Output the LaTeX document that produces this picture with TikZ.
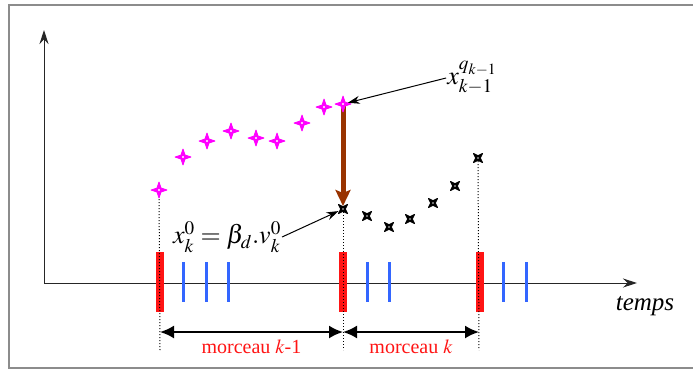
\documentclass[tikz,border=0pt]{standalone}
\usepackage{mathptmx}
\usepackage{fontspec}
\setmainfont{Liberation Serif}
\newfontfamily\timesfont{Liberation Serif}
\usetikzlibrary{arrows.meta,calc,positioning}
\definecolor{FrameGray}{HTML}{8C8C8C}
\definecolor{CutRed}{HTML}{FF1414}
\definecolor{TickBlue}{HTML}{3366FF}
\definecolor{StarPink}{HTML}{FF00FF}
\definecolor{JumpBrown}{HTML}{993300}

\tikzset{spark/.pic={
    \filldraw[pic actions,line width=0.8pt,line join=round] (0,-8) -- (2,-2) -- (8,0) -- (2,2) -- (0,8)
      -- (-2,2) -- (-8,0) -- (-2,-2) -- cycle;
    \fill[white] (0,0) circle (1.2);}}

\begin{document}
\begin{tikzpicture}[x=1pt,y=-1pt,
    axis/.style={-{Stealth[length=14pt,width=9pt]},line width=1pt,black!85},
    cut/.style={line width=8pt,CutRed},
    tick/.style={line width=3pt,TickBlue},
    guide/.style={dotted,line width=1pt},
    span/.style={{Latex[length=14pt,width=13pt]}-{Latex[length=14pt,width=13pt]},line width=2pt},
    ptr/.style={-{Stealth[length=12pt,width=8pt]},line width=1pt},
    jump/.style={-{Stealth[length=16pt,width=15pt,inset=3pt]},line width=5pt,JumpBrown},
    lbl/.style={font=\timesfont\fontsize{20}{24}\selectfont,text=CutRed},
    eq/.style={font=\fontsize{26}{30}\selectfont,inner sep=1pt}]
    \useasboundingbox (0,0) rectangle (693,370);
    \draw[FrameGray,line width=2pt] (9,5) rectangle (720,368);
    % axes
    \coordinate (O) at (44,283);
    \draw[axis] (O) -- (44,30);
    \draw[axis] (O) -- (637,283);
    \node[font=\timesfont\itshape\fontsize{25}{30}\selectfont] (tps) at (645,306) {temps};
    % chunk boundaries and sub-ticks
    \foreach \x in {183,206,228,367,389,503,526}
      \draw[tick] (\x,262) -- (\x,302);
    \foreach \x [count=\i] in {160,343,480}
      \draw[cut] (\x,252) -- (\x,312);
    % samples
    \foreach \x/\y [count=\i] in {159/190,183/157,207/141,231/131,256/138,277/141,302/123,324/107,343/104}
      \coordinate (m\i) at (\x,\y);
    \foreach \x/\y [count=\i] in {343/209,367/216,389/227,410/219,433/203,455/186,478/158}
      \coordinate (n\i) at (\x,\y);
    \coordinate (b1) at (160,350);
    \coordinate (b2) at (343,350);
    \coordinate (b3) at (479,350);
    \draw[guide] (m1) -- (b1);
    \draw[guide] (n1) -- (b2);
    \draw[guide] (n7) -- (b3);
    \draw[jump] (m9) -- ($(n1)+(0,-3)$);
    \foreach \i in {1,...,9}
      \pic[StarPink] at (m\i) {spark};
    \foreach \i in {1,...,7}
      \pic[black,rotate=45,scale=0.82] at (n\i) {spark};
    % chunks
    \draw[span] ($(b1)+(0,-18)$) -- ($(b2)+(0,-18)$)
      node[midway,below=3pt,lbl] (c1) {morceau $k$-1};
    \draw[span] ($(b2)+(0,-18)$) -- ($(b3)+(0,-18)$)
      node[midway,below=3pt,lbl] (c2) {morceau $k$};
    % labels
    \node[eq] (last) at (472,78) {$x_{k-1}^{q_{k-1}}$};
    \node[eq] (first) at (227,237) {$x_k^0=\beta_d.v_k^0$};
    \draw[ptr,shorten >=5pt] (last.west) -- (m9);
    \draw[ptr,shorten >=5pt] (first.east) -- (n1);
  \end{tikzpicture}
\end{document}
